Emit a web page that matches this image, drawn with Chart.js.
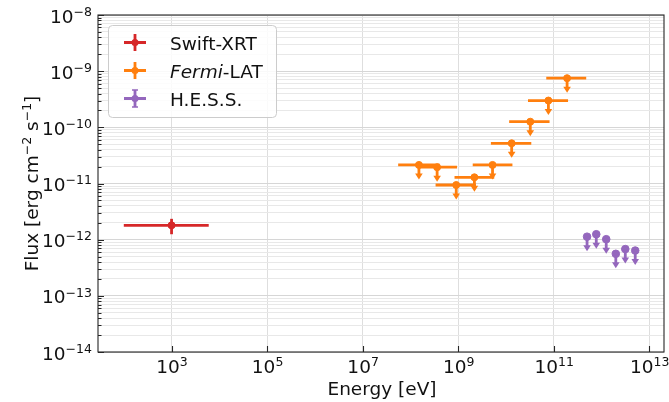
<!DOCTYPE html>
<html>
<head>
<meta charset="utf-8">
<script src="https://cdn.jsdelivr.net/npm/chart.js@4.4.1/dist/chart.umd.min.js"></script>
<style>
  html, body { margin: 0; padding: 0; background: #fff; }
  #wrap { width: 669px; height: 402px; }
</style>
</head>
<body>
<div id="wrap"><canvas id="sed"></canvas></div>
<script>
// --- dados ---
const swiftE = [1e3];
const swiftEmin = [1e2];
const swiftEmax = [6e3];
const swiftFlux = [1.8e-12];
const swiftFluxErr = [0.55e-12];

const fermiE = [1.51e8, 3.63e8, 9.12e8, 2.19e9, 5.25e9, 1.32e10, 3.24e10, 7.76e10, 1.91e11];
const fermiEmin = [5.55e7, 1.45e8, 3.37e8, 8.4e8, 2.02e9, 4.85e9, 1.17e10, 2.9e10, 7.0e10];
const fermiEmax = [4.09e8, 9.5e8, 2.36e9, 5.7e9, 1.37e10, 3.4e10, 8.2e10, 2.0e11, 4.8e11];
const fermiUL = [2.14e-11, 1.95e-11, 9.4e-12, 1.29e-11, 2.14e-11, 5.2e-11, 1.26e-10, 3.0e-10, 7.5e-10];

const hessE = [5.0e11, 7.8e11, 1.26e12, 2.0e12, 3.16e12, 5.1e12];
const hessUL = [1.13e-12, 1.25e-12, 1.02e-12, 5.6e-13, 6.8e-13, 6.4e-13];

const xTicks = [1e3, 1e5, 1e7, 1e9, 1e11, 1e13];
const yDecades = [-14, -13, -12, -11, -10, -9, -8];

const RED = '#d62728', ORANGE = '#ff7f0e', PURPLE = '#9467bd';
const FONT = "'DejaVu Sans', sans-serif";
const FS = 18.5, FS_SUP = 12.5, SUP_RISE = 6.7;

const isDecade = v => Math.abs(Math.log10(v) - Math.round(Math.log10(v))) < 1e-6;
const expText = v => String(Math.round(Math.log10(v))).replace('-', '\u2212');

// ticks do eixo y: maiores + menores (2..9)
const yTicks = [];
yDecades.forEach(d => {
    for (let m = 1; m <= 9; m++) {
        if (d === -8 && m > 1) break;
        yTicks.push(m * Math.pow(10, d));
    }
});

// desenha texto com partes em sobrescrito: [[texto, sobrescrito?, italico?], ...]
function richWidth(ctx, parts) {
    let w = 0;
    parts.forEach(([t, sup, it]) => {
        ctx.font = (it ? 'italic ' : '') + (sup ? FS_SUP : FS) + 'px ' + FONT;
        w += ctx.measureText(t).width;
    });
    return w;
}
function richText(ctx, parts, x, y, align) {
    const w = richWidth(ctx, parts);
    let cx = align === 'center' ? x - w / 2 : align === 'right' ? x - w : x;
    ctx.textBaseline = 'alphabetic';
    ctx.textAlign = 'left';
    parts.forEach(([t, sup, it]) => {
        ctx.font = (it ? 'italic ' : '') + (sup ? FS_SUP : FS) + 'px ' + FONT;
        ctx.fillText(t, cx, sup ? y - SUP_RISE : y);
        cx += ctx.measureText(t).width;
    });
}

// --- plugin: barras de erro e limites superiores ---
const errorBars = {
    id: 'errorBars',
    beforeDatasetsDraw(chart) {
        const { ctx } = chart;
        const xs = chart.scales.x, ys = chart.scales.y;
        ctx.save();
        chart.data.datasets.forEach(ds => {
            ctx.strokeStyle = ds.borderColor;
            ctx.fillStyle = ds.borderColor;
            ctx.lineWidth = 2.8;
            ds.data.forEach((p, i) => {
                const px = xs.getPixelForValue(p.x), py = ys.getPixelForValue(p.y);
                if (ds.xMin) {
                    ctx.beginPath();
                    ctx.moveTo(xs.getPixelForValue(ds.xMin[i]), py);
                    ctx.lineTo(xs.getPixelForValue(ds.xMax[i]), py);
                    ctx.stroke();
                }
                if (ds.yErr) {
                    ctx.beginPath();
                    ctx.moveTo(px, ys.getPixelForValue(p.y + ds.yErr[i]));
                    ctx.lineTo(px, ys.getPixelForValue(p.y - ds.yErr[i]));
                    ctx.stroke();
                }
                if (ds.upperLimit) {
                    const yEnd = ys.getPixelForValue(p.y * 0.6);
                    ctx.beginPath();
                    ctx.moveTo(px, py);
                    ctx.lineTo(px, yEnd - 3);
                    ctx.stroke();
                    ctx.beginPath();
                    ctx.moveTo(px - 3.8, yEnd - 4);
                    ctx.lineTo(px + 3.8, yEnd - 4);
                    ctx.lineTo(px, yEnd + 2);
                    ctx.closePath();
                    ctx.fill();
                }
            });
        });
        ctx.restore();
    }
};

// --- plugin: moldura, ticks para dentro, rótulos e legenda ---
const frame = {
    id: 'frame',
    afterDraw(chart) {
        const { ctx, chartArea: a } = chart;
        const xs = chart.scales.x, ys = chart.scales.y;
        ctx.save();
        ctx.strokeStyle = '#262626';
        ctx.lineWidth = 1.1;
        ctx.strokeRect(a.left, a.top, a.right - a.left, a.bottom - a.top);
        ctx.beginPath();
        xs.ticks.forEach(t => {
            const px = Math.round(xs.getPixelForValue(t.value)) + 0.5;
            ctx.moveTo(px, a.bottom);
            ctx.lineTo(px, a.bottom - 6);
        });
        ys.ticks.forEach(t => {
            const py = Math.round(ys.getPixelForValue(t.value)) + 0.5;
            ctx.moveTo(a.left, py);
            ctx.lineTo(a.left + (isDecade(t.value) ? 6 : 3.5), py);
        });
        ctx.stroke();

        // rótulos dos ticks
        ctx.fillStyle = '#111';
        xs.ticks.forEach(t => {
            richText(ctx, [['10'], [expText(t.value), true]], xs.getPixelForValue(t.value) + 0.5, a.bottom + 21, 'center');
        });
        ys.ticks.filter(t => isDecade(t.value)).forEach(t => {
            richText(ctx, [['10'], [expText(t.value), true]], a.left - 6, ys.getPixelForValue(t.value) + 7.5, 'right');
        });

        // títulos dos eixos
        richText(ctx, [['Energy [eV]']], (a.left + a.right) / 2 + 1, 395, 'center');
        ctx.save();
        ctx.translate(38, (a.top + a.bottom) / 2);
        ctx.rotate(-Math.PI / 2);
        richText(ctx, [['Flux [erg cm'], ['\u22122', true], [' s'], ['\u22121', true], [']']], 0, 0, 'center');
        ctx.restore();

        // legenda
        const lx = 108, ly = 25, lw = 168, lh = 92;
        ctx.fillStyle = 'rgba(255,255,255,0.85)';
        ctx.strokeStyle = '#cccccc';
        ctx.lineWidth = 1;
        ctx.beginPath();
        ctx.roundRect(lx + 0.5, ly + 0.5, lw, lh, 4);
        ctx.fill();
        ctx.stroke();
        const items = [
            { color: RED, parts: [['Swift-XRT']], caps: false },
            { color: ORANGE, parts: [['Fermi', false, true], ['-LAT']], caps: false },
            { color: PURPLE, parts: [['H.E.S.S.']], caps: true }
        ];
        items.forEach((it, k) => {
            const cy = 42.5 + k * 28, cx = 135;
            ctx.strokeStyle = it.color;
            ctx.fillStyle = it.color;
            ctx.lineWidth = 2.8;
            ctx.beginPath();
            ctx.moveTo(cx - 11, cy); ctx.lineTo(cx + 11, cy);
            ctx.moveTo(cx, cy - 8.5); ctx.lineTo(cx, cy + 8.5);
            ctx.stroke();
            if (it.caps) {
                ctx.lineWidth = 1.5;
                ctx.beginPath();
                ctx.moveTo(cx - 3, cy - 8.5); ctx.lineTo(cx + 3, cy - 8.5);
                ctx.moveTo(cx - 3, cy + 8.5); ctx.lineTo(cx + 3, cy + 8.5);
                ctx.stroke();
            }
            ctx.beginPath();
            ctx.arc(cx, cy, 3.5, 0, Math.PI * 2);
            ctx.fill();
            ctx.fillStyle = '#111';
            richText(ctx, it.parts, 170, cy + 7, 'left');
        });
        ctx.restore();
    }
};

const ctx = document.getElementById('sed').getContext('2d');
new Chart(ctx, {
    type: 'scatter',
    data: {
        datasets: [
            {
                label: 'Swift-XRT',
                data: swiftE.map((e, i) => ({ x: e, y: swiftFlux[i] })),
                xMin: swiftEmin, xMax: swiftEmax, yErr: swiftFluxErr,
                borderColor: RED, backgroundColor: RED, pointRadius: 3.5
            },
            {
                label: 'Fermi-LAT',
                data: fermiE.map((e, i) => ({ x: e, y: fermiUL[i] })),
                xMin: fermiEmin, xMax: fermiEmax, upperLimit: true,
                borderColor: ORANGE, backgroundColor: ORANGE, pointRadius: 3.5
            },
            {
                label: 'H.E.S.S.',
                data: hessE.map((e, i) => ({ x: e, y: hessUL[i] })),
                upperLimit: true,
                borderColor: PURPLE, backgroundColor: PURPLE, pointRadius: 3.8
            }
        ]
    },
    options: {
        responsive: true,
        maintainAspectRatio: false,
        animation: false,
        layout: { padding: { top: 15, right: 2, left: 0, bottom: 0 } },
        plugins: { legend: { display: false }, tooltip: { enabled: false } },
        scales: {
            x: {
                type: 'logarithmic',
                min: Math.pow(10, 1.46),
                max: Math.pow(10, 13.31),
                afterBuildTicks: s => { s.ticks = xTicks.map(v => ({ value: v })); },
                afterFit: s => { s.height = 50; s.paddingLeft = 0; s.paddingRight = 0; },
                ticks: { display: false, autoSkip: false },
                grid: { color: '#dedede', lineWidth: 1, drawTicks: false },
                border: { display: false }
            },
            y: {
                type: 'logarithmic',
                min: 1e-14,
                max: 1e-8,
                afterBuildTicks: s => { s.ticks = yTicks.map(v => ({ value: v })); },
                afterFit: s => { s.width = 98; s.paddingTop = 0; s.paddingBottom = 0; },
                ticks: { display: false, autoSkip: false },
                grid: {
                    drawTicks: false,
                    color: c => isDecade(c.tick.value) ? '#d6d6d6' : '#e8e8e8',
                    lineWidth: 1
                },
                border: { display: false }
            }
        }
    },
    plugins: [errorBars, frame]
});
</script>
</body>
</html>
